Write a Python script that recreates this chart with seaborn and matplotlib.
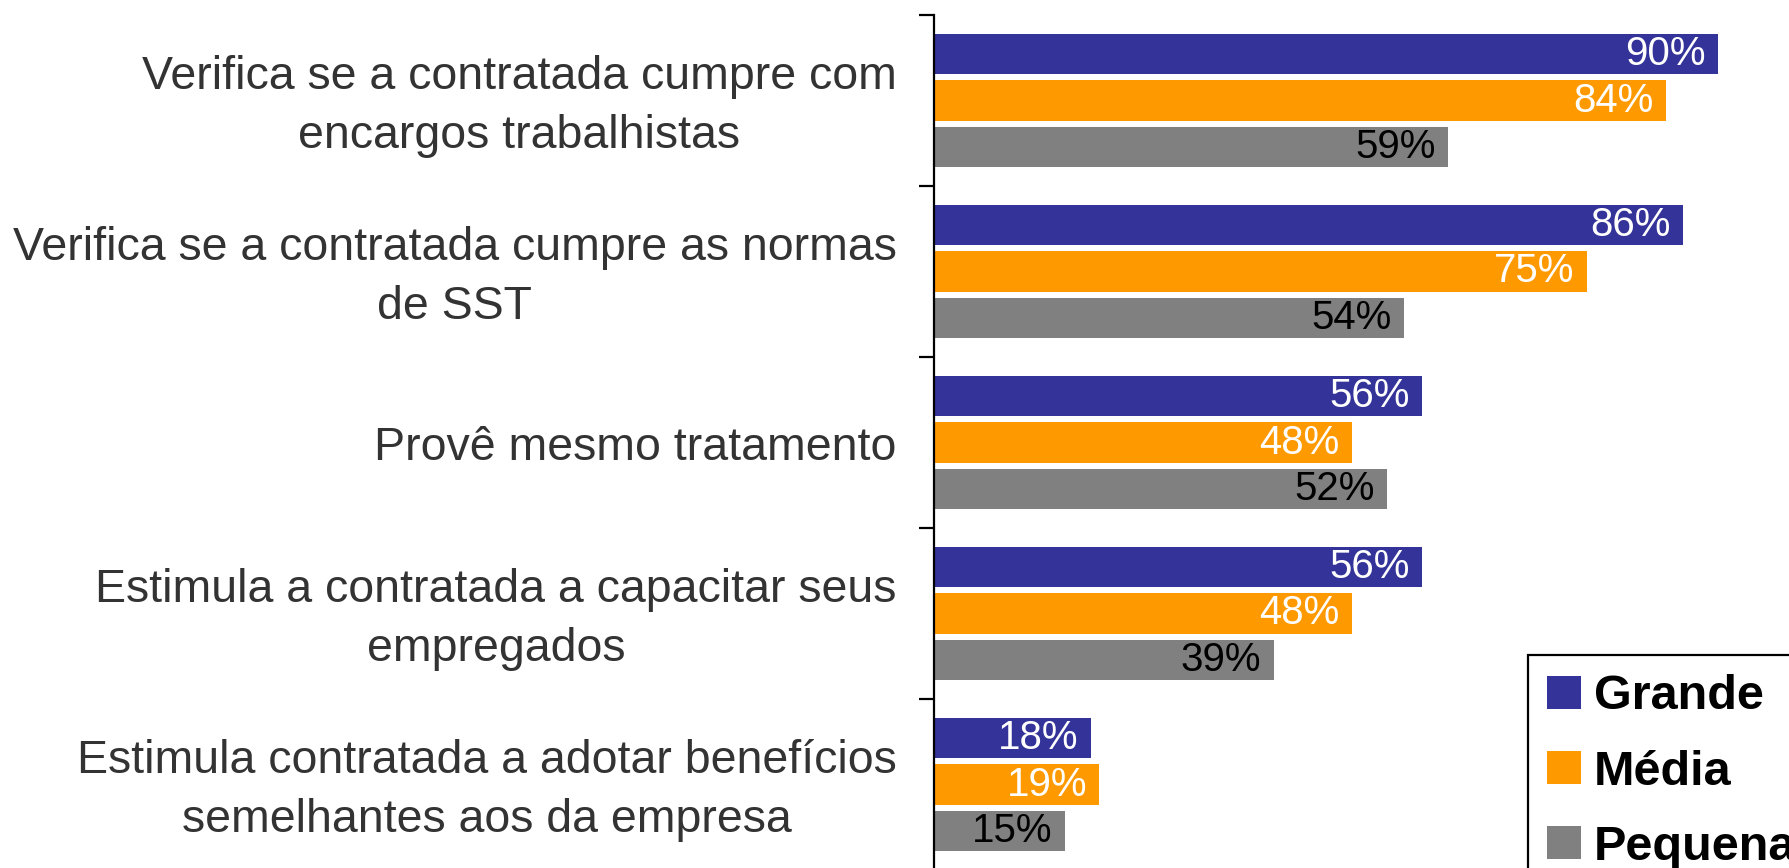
import matplotlib
matplotlib.use("Agg")
import matplotlib.pyplot as plt
from matplotlib.ticker import FixedLocator
from matplotlib.patches import Patch
import seaborn as sns
import pandas as pd

categories = [
    "Verifica se a contratada cumpre com\nencargos trabalhistas",
    "Verifica se a contratada cumpre as normas\nde SST",
    "Provê mesmo tratamento",
    "Estimula a contratada a capacitar seus\nempregados",
    "Estimula contratada a adotar benefícios\nsemelhantes aos da empresa",
]
series_names = ["Grande", "Média", "Pequena"]
grande = [90, 86, 56, 56, 18]
media = [84, 75, 48, 48, 19]
pequena = [59, 54, 52, 39, 15]
colors = ["#333399", "#FF9900", "#808080"]
label_colors = ["white", "white", "black"]

rows = []
for name, vals in zip(series_names, [grande, media, pequena]):
    for cat, v in zip(categories, vals):
        rows.append({"cat": cat, "size": name, "val": v})
df = pd.DataFrame(rows)

sns.set_style("white")
plt.rcParams["font.family"] = ["Liberation Sans", "DejaVu Sans"]

W, H = 1789, 868
fig = plt.figure(figsize=(W / 100, H / 100), dpi=100)
ax = fig.add_axes([934 / W, 1 - 870 / H, 871 / W, 855 / H])

sns.barplot(data=df, y="cat", x="val", hue="size", order=categories,
            hue_order=series_names, palette=colors, orient="h",
            width=0.816, gap=0.14, saturation=1, ax=ax, legend=False,
            linewidth=0, errorbar=None)

for cont, lc in zip(ax.containers, label_colors):
    texts = ax.bar_label(cont, labels=[f"{int(v)}%" for v in cont.datavalues],
                         padding=-9, fontsize=29, color=lc)
    for t in texts:
        t.set_ha("right")

ax.set_xlim(0, 100)
ax.set_ylim(len(categories) - 0.5, -0.5)
ax.set_xlabel("")
ax.set_ylabel("")
ax.set_xticks([])
for s in ["top", "right", "bottom"]:
    ax.spines[s].set_visible(False)
ax.spines["left"].set_color("black")
ax.spines["left"].set_linewidth(1.6)

# two-line labels are nudged up slightly so their block centres on the group
tick_pos = [i - (0.04 if "\n" in c else 0.0) for i, c in enumerate(categories)]
ax.set_yticks(tick_pos)
ax.set_yticklabels(categories, fontsize=33.5, color="#333333")
for t in ax.get_yticklabels():
    t.set_multialignment("center")
    t.set_linespacing(1.44)
ax.tick_params(axis="y", which="major", length=0, pad=27)
ax.yaxis.set_minor_locator(FixedLocator([i - 0.5 for i in range(len(categories) + 1)]))
ax.tick_params(axis="y", which="minor", length=11, width=1.6, color="black", left=True)

handles = [Patch(facecolor=c, edgecolor="none") for c in colors]
leg = ax.legend(handles, series_names, loc="upper left",
                bbox_to_anchor=(1528 / W, 1 - 655 / H), bbox_transform=fig.transFigure,
                prop={"weight": "bold", "size": 35}, frameon=True, fancybox=False,
                edgecolor="black", framealpha=1, borderpad=0.4,
                handlelength=0.68, handleheight=0.68, handletextpad=0.27,
                labelspacing=0.62, borderaxespad=0, labelcolor="black")
leg.get_frame().set_linewidth(1.6)

fig.savefig("out.png", dpi=100)
